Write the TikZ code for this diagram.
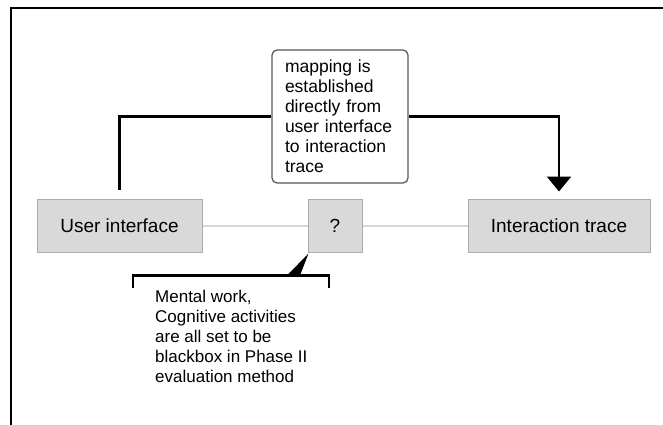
\documentclass[tikz,border=0pt]{standalone}
\usepackage{fontspec}
\setmainfont{Liberation Sans}
\usetikzlibrary{arrows.meta}
\definecolor{boxfill}{HTML}{D9D9D9}
\definecolor{boxedge}{HTML}{ABABAB}
\definecolor{linkgray}{HTML}{D6D6D6}
\definecolor{noteedge}{HTML}{555555}
\begin{document}
\begin{tikzpicture}[x=1pt,y=-1pt,
  box/.style={draw=boxedge, fill=boxfill, line width=1pt, inner sep=0pt,
    minimum height=53pt, font=\fontsize{19}{20}\selectfont},
  link/.style={draw=linkgray, line width=2pt},
  flow/.style={draw=black, line width=2.6pt},
  callout/.style={draw=noteedge, line width=1.2pt, rounded corners=5pt, fill=white,
    text width=110pt, align=left, inner xsep=13pt, inner ysep=0pt,
    minimum height=133pt, font=\fontsize{17.5}{20}\selectfont},
  plain/.style={inner sep=0pt, align=left, font=\fontsize{17}{20}\selectfont}
]
\useasboundingbox (0,0) rectangle (663,425);

% outer frame (only top and left edges fall inside the page)
\draw[line width=2.2pt] (11,425) -- (11,8) -- (663,8);

% main row of boxes
\node[box, minimum width=165pt] (ui) at (119.5,225.5) {User interface};
\node[box, minimum width=54pt] (q) at (335,225.5) {?};
\node[box, minimum width=182pt] (it) at (559,225.5) {Interaction trace};

\draw[link] (ui.east) -- (q.west);
\draw[link] (q.east) -- (it.west);

% direct mapping note with its elbow connectors
\node[callout] (note) at (340,116.5) {mapping is established directly from user interface to interaction trace};

\draw[flow] ([yshift=9pt]ui.north) |- (note.west);
\draw[flow, -{Triangle[width=24pt,length=15pt]}] (note.east) -| ([yshift=7pt]it.north);

% bracket note hanging from the question box
\coordinate (bl) at (133,288);
\coordinate (bm) at (133,275.5);
\coordinate (bn) at (329,275.5);
\coordinate (br) at (329,288);
\coordinate (wa) at (287,275.5);
\coordinate (wb) at (300,275.5);
\draw[line width=2.4pt] (bl) -- (bm) -- (bn) -- (br);
\fill[black] ([xshift=1pt,yshift=-1pt]q.south west) -- (wa) -- (wb) -- cycle;

\node[plain, anchor=north west] (mental) at (155,290) {Mental work,\\Cognitive activities\\are all set to be\\blackbox in Phase II\\evaluation method};
\end{tikzpicture}
\end{document}
